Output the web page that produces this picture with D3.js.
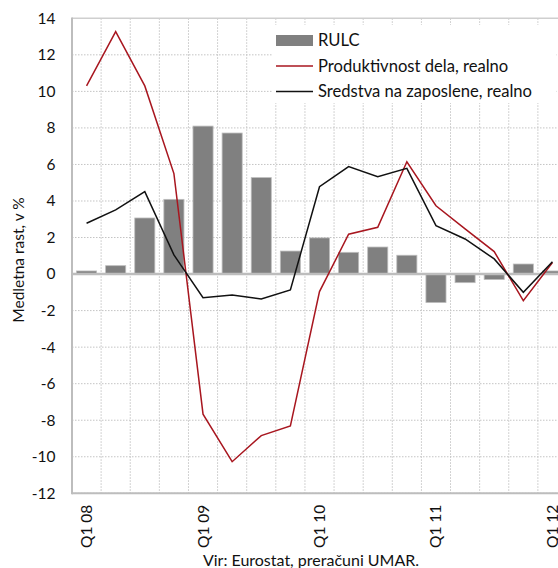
<!DOCTYPE html>
<html>
<head>
<meta charset="utf-8">
<script src="https://cdn.jsdelivr.net/npm/d3@7"></script>
<style>
  body { margin: 0; background: #fff; }
  svg { display: block; font-family: Lato, "Open Sans", sans-serif; }
</style>
</head>
<body>
<svg id="chart" width="558" height="568"></svg>
<script>
const quarters = ["Q1 08","Q2 08","Q3 08","Q4 08","Q1 09","Q2 09","Q3 09","Q4 09",
                  "Q1 10","Q2 10","Q3 10","Q4 10","Q1 11","Q2 11","Q3 11","Q4 11","Q1 12"];
const tickLabels = ["Q1 08","Q1 09","Q1 10","Q1 11","Q1 12"];
const rulc = [0.17, 0.46, 3.07, 4.09, 8.1, 7.72, 5.28, 1.26, 1.98, 1.19, 1.48, 1.03, -1.56, -0.47, -0.3, 0.55, 0.17];
const produktivnost = [10.3, 13.27, 10.3, 5.5, -7.67, -10.27, -8.84, -8.31, -0.96, 2.18, 2.56, 6.15, 3.74, 2.47, 1.23, -1.46, 0.63];
const sredstva = [2.78, 3.51, 4.51, 1.05, -1.29, -1.14, -1.36, -0.87, 4.78, 5.88, 5.33, 5.79, 2.65, 1.92, 0.83, -1.0, 0.68];
const yTicks = d3.range(-12, 15, 2);

const svg = d3.select("#chart");
const mLeft = 72, mRight = 567, mTop = 18.3, mBottom = 493.3;

const x = d3.scaleBand().domain(quarters).range([mLeft, mRight]).paddingInner(0.31).paddingOuter(0.155);
const xs = d3.scaleBand().domain(quarters).range([mLeft, mRight]);
const y = d3.scaleLinear().domain([-12, 14]).range([mBottom, mTop]);
const cx = q => xs(q) + xs.bandwidth() / 2;

// grid
const grid = svg.append("g");
grid.selectAll("line.h").data(yTicks.filter(d => d !== 0 && d !== 14)).join("line")
    .attr("x1", mLeft).attr("x2", 558).attr("y1", d => y(d)).attr("y2", d => y(d))
    .attr("stroke", "#c4c4c4").attr("stroke-width", 1).attr("stroke-dasharray", "1.5,1.5");
grid.selectAll("line.v").data(quarters.slice(1)).join("line")
    .attr("x1", d => xs(d)).attr("x2", d => xs(d)).attr("y1", mTop).attr("y2", mBottom)
    .attr("stroke", "#c4c4c4").attr("stroke-width", 1).attr("stroke-dasharray", "1.5,1.5");
svg.append("line").attr("x1", mLeft).attr("x2", 558).attr("y1", y(14)).attr("y2", y(14))
    .attr("stroke", "#cfcfcf").attr("stroke-width", 1.5);

// bars
svg.append("g").selectAll("rect").data(rulc).join("rect")
    .attr("x", (d, i) => x(quarters[i]))
    .attr("width", x.bandwidth())
    .attr("y", d => y(Math.max(0, d)))
    .attr("height", d => Math.abs(y(d) - y(0)))
    .attr("fill", "#808080").attr("stroke", "#bdbdbd").attr("stroke-width", 0.8);

// axes lines
svg.append("line").attr("x1", mLeft).attr("x2", 558).attr("y1", y(0)).attr("y2", y(0))
    .attr("stroke", "#bdbdbd").attr("stroke-width", 2.5);
svg.append("line").attr("x1", mLeft).attr("x2", mLeft).attr("y1", mTop - 0.7).attr("y2", mBottom + 1)
    .attr("stroke", "#bdbdbd").attr("stroke-width", 2);
svg.append("line").attr("x1", mLeft).attr("x2", 558).attr("y1", mBottom).attr("y2", mBottom)
    .attr("stroke", "#bdbdbd").attr("stroke-width", 2);

// lines
const line = d3.line().x((d, i) => cx(quarters[i])).y(d => y(d));
svg.append("path").datum(produktivnost).attr("d", line)
    .attr("fill", "none").attr("stroke", "#a8161f").attr("stroke-width", 1.5);
svg.append("path").datum(sredstva).attr("d", line)
    .attr("fill", "none").attr("stroke", "#111").attr("stroke-width", 1.5);

// y tick labels
svg.append("g").selectAll("text").data(yTicks).join("text")
    .attr("x", 55.5).attr("y", d => y(d)).attr("dy", "0.35em")
    .attr("text-anchor", "end").attr("font-size", 15.5).attr("fill", "#111")
    .text(d => d);

// x tick labels
svg.append("g").selectAll("text").data(tickLabels).join("text")
    .attr("transform", d => `translate(${cx(d) + 5.5},${548}) rotate(-90)`)
    .attr("font-size", 15.5).attr("fill", "#111")
    .text(d => d);

// axis title
svg.append("text")
    .attr("transform", "translate(24,260) rotate(-90)")
    .attr("text-anchor", "middle").attr("font-size", 15.5).attr("fill", "#111")
    .text("Medletna rast, v %");

// source
svg.append("text").attr("x", 311).attr("y", 566).attr("text-anchor", "middle")
    .attr("font-size", 16).attr("fill", "#111")
    .text("Vir: Eurostat, preračuni UMAR.");

// legend
const legend = svg.append("g");
legend.append("rect").attr("x", 272).attr("y", 25).attr("width", 284).attr("height", 78).attr("fill", "#fff");
const items = [
  {name: "RULC", type: "bar", color: "#808080"},
  {name: "Produktivnost dela, realno", type: "line", color: "#a8161f"},
  {name: "Sredstva na zaposlene, realno", type: "line", color: "#111"}
];
items.forEach((it, i) => {
  const yy = 40.5 + i * 25.5;
  if (it.type === "bar") {
    legend.append("rect").attr("x", 276).attr("y", yy - 5.5).attr("width", 37).attr("height", 11).attr("fill", it.color);
  } else {
    legend.append("line").attr("x1", 276).attr("x2", 313).attr("y1", yy).attr("y2", yy)
        .attr("stroke", it.color).attr("stroke-width", 1.5);
  }
  legend.append("text").attr("x", 318).attr("y", yy).attr("dy", "0.35em")
      .attr("font-size", 16.6).attr("fill", "#111").text(it.name);
});
</script>
</body>
</html>
